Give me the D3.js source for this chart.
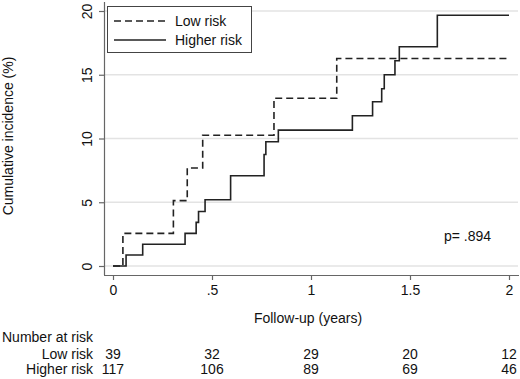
<!DOCTYPE html>
<html lang="en">
<head>
  <meta charset="UTF-8">
  <title>Cumulative incidence</title>
  <script src="https://d3js.org/d3.v7.min.js"></script>
  <style>
    * { margin: 0; padding: 0; box-sizing: border-box; }
    body { background: #fff; font-family: "Liberation Sans", Arial, sans-serif; }
    svg text { fill: #111; }
  </style>
</head>
<body>
  <div id="chart"></div>

  <script>
    // step curves: event times (years) and cumulative incidence (%)
    const lowTimes  = [0, 0.05, 0.305, 0.375, 0.453, 0.813, 1.13, 1.99];
    const lowValues = [0, 2.56, 5.13, 7.69, 10.26, 13.16, 16.28, 16.28];

    const highTimes  = [0, 0.066, 0.15, 0.364, 0.42, 0.432, 0.465, 0.594, 0.763, 0.772, 0.835,
                        1.209, 1.311, 1.357, 1.37, 1.424, 1.446, 1.638, 2.0];
    const highValues = [0, 0.86, 1.71, 2.56, 3.42, 4.27, 5.2, 7.08, 8.75, 9.74, 10.66,
                        11.78, 12.88, 13.9, 15.0, 16.1, 17.2, 19.67, 19.67];

    const xTicks = [0, 0.5, 1, 1.5, 2];
    const xTickLabels = ["0", ".5", "1", "1.5", "2"];
    const yTicks = [0, 5, 10, 15, 20];

    const riskGroups = ["Low risk", "Higher risk"];
    const lowAtRisk  = [39, 32, 29, 20, 12];
    const highAtRisk = [117, 106, 89, 69, 46];

    const W = 520, H = 379;
    const FS = "14px";
    const svg = d3.select("#chart").append("svg")
                  .attr("width", W)
                  .attr("height", H)
                  .style("font-family", "'Liberation Sans', Arial, sans-serif");

    const x = d3.scaleLinear().domain([0, 2]).range([113, 509]);
    const y = d3.scaleLinear().domain([0, 20]).range([266, 11]);

    // gridlines
    svg.append("g")
       .selectAll("line")
       .data(yTicks)
       .enter()
       .append("line")
       .attr("x1", 104)
       .attr("x2", 518)
       .attr("y1", d => y(d))
       .attr("y2", d => y(d))
       .attr("stroke", "#e3e3e3")
       .attr("stroke-width", 1.3);

    // y axis
    const yAxis = svg.append("g")
       .attr("transform", "translate(104,0)")
       .call(d3.axisLeft(y).tickValues(yTicks).tickSize(5).tickSizeOuter(0).tickFormat(d3.format("d")));
    yAxis.select(".domain").attr("d", "M0.5,2V275");
    yAxis.selectAll(".domain, .tick line").attr("stroke", "#666").attr("stroke-width", 1.2);
    yAxis.selectAll(".tick text")
         .attr("x", 0).attr("dy", 0)
         .attr("transform", "translate(-12,0) rotate(-90)")
         .attr("text-anchor", "middle")
         .style("font-size", FS)
         .style("fill", "#111");

    // x axis
    const xAxis = svg.append("g")
       .attr("transform", "translate(0,275)")
       .call(d3.axisBottom(x).tickValues(xTicks).tickSize(5).tickSizeOuter(0)
               .tickFormat((d, i) => xTickLabels[i]));
    xAxis.select(".domain").attr("d", "M104,0.5H519");
    xAxis.selectAll(".domain, .tick line").attr("stroke", "#666").attr("stroke-width", 1.2);
    xAxis.selectAll(".tick text")
         .attr("y", 10)
         .style("font-size", FS)
         .style("fill", "#111");

    // axis titles
    svg.append("text")
       .attr("transform", "translate(13,136) rotate(-90)")
       .attr("text-anchor", "middle")
       .style("font-size", FS)
       .text("Cumulative incidence (%)");

    svg.append("text")
       .attr("x", 308)
       .attr("y", 323)
       .attr("text-anchor", "middle")
       .style("font-size", FS)
       .text("Follow-up (years)");

    // curves
    const line = d3.line()
                   .x(d => x(d[0]))
                   .y(d => y(d[1]))
                   .curve(d3.curveStepAfter);

    svg.append("path")
       .datum(highTimes.map((t, i) => [t, highValues[i]]))
       .attr("d", line)
       .attr("fill", "none")
       .attr("stroke", "#222")
       .attr("stroke-width", 1.6);

    svg.append("path")
       .datum(lowTimes.map((t, i) => [t, lowValues[i]]))
       .attr("d", line)
       .attr("fill", "none")
       .attr("stroke", "#222")
       .attr("stroke-width", 1.6)
       .attr("stroke-dasharray", "7,4");

    // legend
    const legend = svg.append("g").attr("transform", "translate(107,6)");
    legend.append("rect")
          .attr("x", 0.5).attr("y", 0.5)
          .attr("width", 144).attr("height", 46)
          .attr("fill", "#fff")
          .attr("stroke", "#444")
          .attr("stroke-width", 1);
    legend.selectAll("line")
          .data(riskGroups)
          .enter()
          .append("line")
          .attr("x1", 7).attr("x2", 59)
          .attr("y1", (d, i) => 15 + i * 19)
          .attr("y2", (d, i) => 15 + i * 19)
          .attr("stroke", "#222")
          .attr("stroke-width", 1.6)
          .attr("stroke-dasharray", (d, i) => i === 0 ? "7,4" : null);
    legend.selectAll("text")
          .data(riskGroups)
          .enter()
          .append("text")
          .attr("x", 68)
          .attr("y", (d, i) => 20 + i * 19)
          .style("font-size", FS)
          .text(d => d);

    // p value
    svg.append("text")
       .attr("x", 444)
       .attr("y", 241)
       .style("font-size", FS)
       .text("p= .894");

    // number at risk table
    svg.append("text")
       .attr("x", 2)
       .attr("y", 342)
       .style("font-size", FS)
       .text("Number at risk");

    [lowAtRisk, highAtRisk].forEach((row, r) => {
      const yy = 359 + r * 15;
      svg.append("text")
         .attr("x", 93)
         .attr("y", yy)
         .attr("text-anchor", "end")
         .style("font-size", FS)
         .text(riskGroups[r]);
      svg.selectAll(".risk" + r)
         .data(row)
         .enter()
         .append("text")
         .attr("class", "risk" + r)
         .attr("x", (d, i) => x(xTicks[i]))
         .attr("y", yy)
         .attr("text-anchor", "middle")
         .style("font-size", FS)
         .text(d => d);
    });
  </script>
</body>
</html>
